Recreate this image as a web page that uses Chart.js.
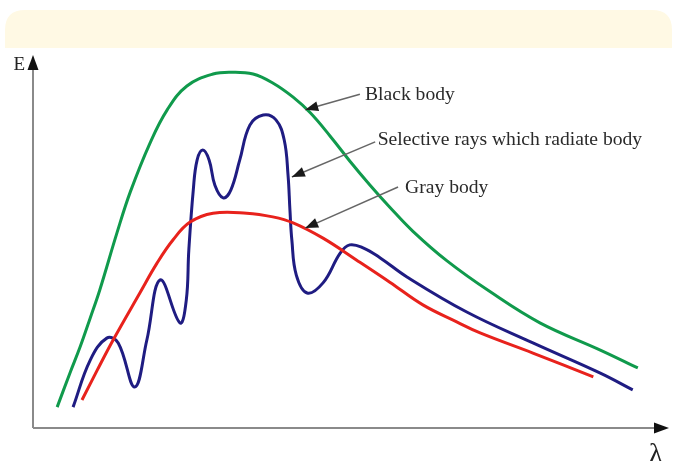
<!DOCTYPE html>
<html>
<head>
<meta charset="utf-8">
<script src="https://cdn.jsdelivr.net/npm/chart.js@4/dist/chart.umd.min.js"></script>
<style>
  html, body { margin: 0; padding: 0; background: #ffffff; }
  #wrap { width: 676px; height: 461px; }
</style>
</head>
<body>
<div id="wrap"><canvas id="c" width="676" height="461"></canvas></div>
<script>
// Wavelength (λ) and energy (E) in arbitrary units, 0..100 on each axis
const blackBodyX = [3.8, 5.8, 7.4, 9.0, 10.5, 13.2, 15.3, 18.4, 21.1, 24.2, 28.3, 31.4, 34.6, 37.7, 40.9, 43.6, 46.7, 49.8, 53.0, 56.1, 59.7, 65.1, 71.9, 79.7, 89.2, 95.1];
const blackBodyE = [5.6, 14.7, 21.7, 29.5, 37.0, 52.3, 63.3, 76.4, 85.3, 91.7, 94.9, 95.4, 94.9, 92.5, 88.7, 84.5, 78.3, 71.6, 65.1, 59.2, 52.8, 44.8, 36.5, 28.2, 20.9, 16.1];

const grayBodyX = [7.7, 10.1, 12.6, 16.8, 19.5, 22.0, 24.7, 28.3, 33.6, 37.7, 40.9, 45.6, 50.9, 56.1, 61.3, 66.7, 70.3, 78.6, 88.1];
const grayBodyE = [7.5, 15.5, 23.6, 36.2, 44.2, 50.4, 55.2, 57.6, 57.6, 56.6, 55.0, 50.9, 45.0, 39.1, 33.0, 28.4, 25.5, 20.1, 13.7];

const selectiveX = [6.3, 9.0, 11.6, 13.4, 16.0, 17.9, 20.0, 23.1, 24.1, 24.5, 25.2, 25.8, 26.7, 27.7, 28.6, 29.9, 31.1, 32.5, 34.1, 36.2, 38.2, 39.5, 40.1, 40.4, 40.7, 41.4, 43.1, 45.6, 48.3, 49.8, 51.9, 54.6, 58.8, 68.2, 78.6, 89.2, 94.3];
const selectiveE = [5.6, 18.2, 24.1, 22.8, 11.0, 23.6, 39.7, 28.2, 34.3, 47.7, 63.8, 71.8, 74.5, 71.8, 65.1, 61.7, 63.8, 71.8, 81.2, 83.9, 82.6, 77.2, 67.8, 58.4, 50.4, 41.0, 36.2, 38.9, 46.9, 49.1, 48.3, 45.6, 40.5, 31.1, 22.8, 14.7, 10.2];

// Annotation labels (text, arrow tip, arrow tail, text anchor) in the same units
const labelTexts = ["Black body", "Selective rays which radiate body", "Gray body"];
const arrowTipX  = [42.8, 40.7, 42.8];
const arrowTipE  = [85.3, 67.3, 53.6];
const arrowTailX = [51.4, 53.8, 57.4];
const arrowTailE = [89.5, 76.7, 64.6];
const labelX     = [52.2, 54.2, 58.5];
const labelBaseE = [87.9, 75.9, 63.0];

const axisNames = { y: "E", x: "λ" };

function pts(xs, ys) { return xs.map((x, i) => ({ x: x, y: ys[i] })); }

function arrowHead(ctx, tx, ty, fx, fy, len, half) {
  const a = Math.atan2(ty - fy, tx - fx);
  ctx.beginPath();
  ctx.moveTo(tx, ty);
  ctx.lineTo(tx - len * Math.cos(a) + half * Math.sin(a), ty - len * Math.sin(a) - half * Math.cos(a));
  ctx.lineTo(tx - len * Math.cos(a) - half * Math.sin(a), ty - len * Math.sin(a) + half * Math.cos(a));
  ctx.closePath();
  ctx.fill();
}

const decor = {
  id: 'decor',
  beforeDraw(chart) {
    const ctx = chart.ctx;
    ctx.save();
    ctx.fillStyle = '#FFF9E4';
    const bx = 5, by = 10, bw = 667, bh = 38, r = 20;
    ctx.beginPath();
    ctx.moveTo(bx, by + bh);
    ctx.lineTo(bx, by + r);
    ctx.quadraticCurveTo(bx, by, bx + r, by);
    ctx.lineTo(bx + bw - r, by);
    ctx.quadraticCurveTo(bx + bw, by, bx + bw, by + r);
    ctx.lineTo(bx + bw, by + bh);
    ctx.closePath();
    ctx.fill();
    ctx.restore();
  },
  afterDatasetsDraw(chart) {
    const ctx = chart.ctx;
    const a = chart.chartArea;
    const xs = chart.scales.x, ys = chart.scales.y;
    ctx.save();
    ctx.strokeStyle = '#8a8a8a';
    ctx.lineWidth = 2;
    ctx.beginPath();
    ctx.moveTo(a.left, a.bottom);
    ctx.lineTo(a.left, a.top + 12);
    ctx.moveTo(a.left, a.bottom);
    ctx.lineTo(a.right - 12, a.bottom);
    ctx.stroke();
    ctx.fillStyle = '#111';
    arrowHead(ctx, a.left, a.top, a.left, a.bottom, 15, 5.5);
    arrowHead(ctx, a.right, a.bottom, a.left, a.bottom, 15, 5.5);
    ctx.fillStyle = '#222';
    ctx.font = '19px "Liberation Serif", serif';
    ctx.textBaseline = 'alphabetic';
    ctx.textAlign = 'right';
    ctx.fillText(axisNames.y, a.left - 8, a.top + 15);
    ctx.textAlign = 'left';
    ctx.font = '28px "Liberation Serif", serif';
    ctx.fillText(axisNames.x, a.right - 20, a.bottom + 34);
    for (let i = 0; i < labelTexts.length; i++) {
      const tx = xs.getPixelForValue(arrowTipX[i]), ty = ys.getPixelForValue(arrowTipE[i]);
      const fx = xs.getPixelForValue(arrowTailX[i]), fy = ys.getPixelForValue(arrowTailE[i]);
      ctx.strokeStyle = '#666';
      ctx.lineWidth = 1.5;
      ctx.beginPath();
      ctx.moveTo(fx, fy);
      ctx.lineTo(tx, ty);
      ctx.stroke();
      ctx.fillStyle = '#1a1a1a';
      arrowHead(ctx, tx, ty, fx, fy, 13, 5);
      ctx.fillStyle = '#2a2a2a';
      ctx.font = '19.6px "Liberation Serif", serif';
      ctx.textAlign = 'left';
      ctx.textBaseline = 'alphabetic';
      ctx.fillText(labelTexts[i], xs.getPixelForValue(labelX[i]), ys.getPixelForValue(labelBaseE[i]));
    }
    ctx.restore();
  }
};

const common = { showLine: true, pointRadius: 0, pointHoverRadius: 0, borderWidth: 3, tension: 0.4, fill: false };

new Chart(document.getElementById('c'), {
  type: 'scatter',
  data: {
    datasets: [
      Object.assign({ label: 'Black body', data: pts(blackBodyX, blackBodyE), borderColor: '#109A4C' }, common),
      Object.assign({ label: 'Gray body', data: pts(grayBodyX, grayBodyE), borderColor: '#E8221C' }, common),
      Object.assign({ label: 'Selective rays which radiate body', data: pts(selectiveX, selectiveE), borderColor: '#1F1C82' }, common)
    ]
  },
  options: {
    responsive: false,
    animation: false,
    layout: { padding: { left: 33, right: 7, top: 55, bottom: 33 } },
    scales: {
      x: { type: 'linear', min: 0, max: 100, display: false },
      y: { type: 'linear', min: 0, max: 100, display: false }
    },
    plugins: { legend: { display: false }, tooltip: { enabled: false } }
  },
  plugins: [decor]
});
</script>
</body>
</html>
